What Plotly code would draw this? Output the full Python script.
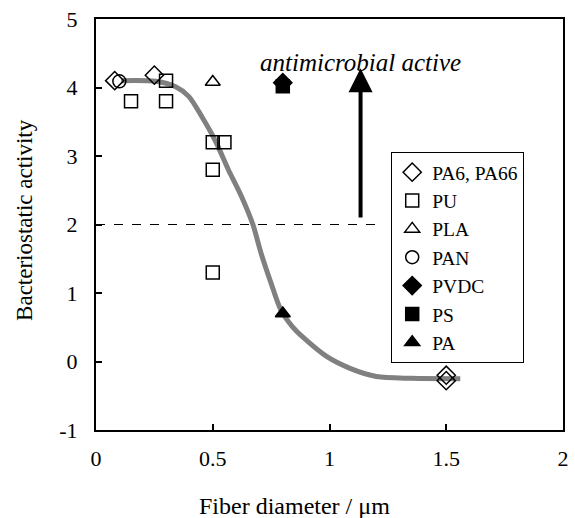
import plotly.graph_objects as go

# --- data ---
pa6_x = [0.08, 0.25, 1.50, 1.50]
pa6_y = [4.10, 4.18, -0.20, -0.28]
pu_x = [0.15, 0.30, 0.30, 0.50, 0.55, 0.50, 0.50]
pu_y = [3.80, 4.10, 3.80, 3.20, 3.20, 2.80, 1.30]
pla_x = [0.50]
pla_y = [4.08]
pan_x = [0.10]
pan_y = [4.09]
pvdc_x = [0.80]
pvdc_y = [4.07]
ps_x = [0.80]
ps_y = [4.02]
pa_x = [0.80]
pa_y = [0.70]

fit_x = [0.108, 0.256, 0.341, 0.397, 0.454, 0.510, 0.567, 0.623, 0.672, 0.707, 0.750,
         0.792, 0.841, 0.891, 0.989, 1.088, 1.201, 1.350, 1.560]
fit_y = [4.10, 4.09, 4.01, 3.87, 3.57, 3.23, 2.80, 2.41, 2.00, 1.58, 1.14,
         0.75, 0.51, 0.34, 0.07, -0.10, -0.22, -0.245, -0.25]

threshold = 2.0
threshold_end = 1.23
arrow_x = 1.133
arrow_from = 2.08
arrow_to = 4.28

x_ticks = [0, 0.5, 1, 1.5, 2]
y_ticks = [-1, 0, 1, 2, 3, 4, 5]

FONT = "Times New Roman, Liberation Serif, serif"

fig = go.Figure()

fig.add_trace(go.Scatter(x=fit_x, y=fit_y, mode="lines",
                         line=dict(color="#808080", width=5, shape="spline", smoothing=0.8),
                         showlegend=False, hoverinfo="skip"))

def add(name, xs, ys, symbol, size=13):
    fig.add_trace(go.Scatter(x=xs, y=ys, mode="markers", name=name,
                             marker=dict(symbol=symbol, size=size, color="black",
                                         line=dict(color="black", width=1.5))))

add("PA6, PA66", pa6_x, pa6_y, "diamond-open", 14)
add("PU", pu_x, pu_y, "square-open", 13)
add("PLA", pla_x, pla_y, "triangle-up-open", 13)
add("PAN", pan_x, pan_y, "circle-open", 13)
add("PVDC", pvdc_x, pvdc_y, "diamond", 14)
add("PS", ps_x, ps_y, "square", 13)
add("PA", pa_x, pa_y, "triangle-up", 13)

fig.add_shape(type="line", x0=0, x1=threshold_end, y0=threshold, y1=threshold,
              line=dict(color="black", width=1.2, dash="dash"), layer="below")

fig.add_annotation(x=arrow_x, y=arrow_to, ax=arrow_x, ay=arrow_from, xref="x", yref="y",
                   axref="x", ayref="y", showarrow=True, arrowhead=2, arrowsize=1.2,
                   arrowwidth=4, arrowcolor="black", text="")
fig.add_annotation(x=arrow_x, y=4.37, xref="x", yref="y", text="<i>antimicrobial active</i>",
                   showarrow=False, font=dict(family=FONT, size=25, color="black"))

# axis titles
fig.add_annotation(x=(297 - 96) / 473, y=-76 / 411, xref="paper", yref="paper",
                   text="Fiber diameter / μm", showarrow=False, yanchor="middle",
                   font=dict(family=FONT, size=24, color="black"))
fig.add_annotation(x=-72 / 473, y=(430 - 220) / 411, xref="paper", yref="paper", textangle=-90,
                   text="Bacteriostatic activity", showarrow=False, xanchor="center",
                   font=dict(family=FONT, size=23, color="black"))

axis_common = dict(showgrid=False, zeroline=False, showline=True, linecolor="black", linewidth=2,
                   mirror=True, ticks="inside", ticklen=6, tickwidth=1.5, tickcolor="black",
                   tickfont=dict(family=FONT, size=22, color="black"))
fig.update_xaxes(range=[0, 2], tickvals=x_ticks, ticktext=[f"{v:g}" for v in x_ticks],
                 ticklabelstandoff=8, **axis_common)
fig.update_yaxes(range=[-1, 5], tickvals=y_ticks, ticktext=[f"{v:g}" for v in y_ticks],
                 ticklabelstandoff=12, **axis_common)

fig.update_layout(
    width=575, height=518,
    margin=dict(l=96, r=6, t=19, b=88),
    paper_bgcolor="white", plot_bgcolor="white",
    font=dict(family=FONT, size=20, color="black"),
    legend=dict(x=(395 - 96) / 473, y=(430 - 152) / 411, xanchor="left", yanchor="top",
                bgcolor="white", bordercolor="black", borderwidth=1,
                font=dict(family=FONT, size=19.5, color="black"),
                itemwidth=30, tracegroupgap=0),
)

fig.write_html("out.html")
